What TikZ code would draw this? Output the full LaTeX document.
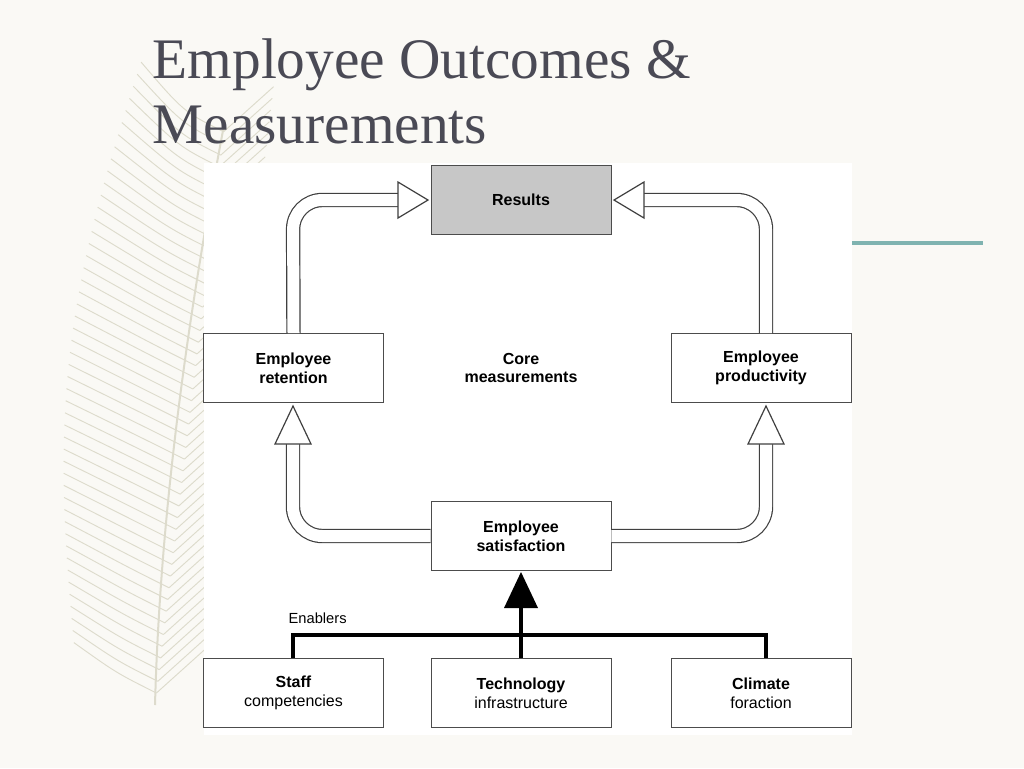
\documentclass[tikz,border=0pt]{standalone}
\usepackage{fontspec}
\setsansfont{Liberation Sans}
\newfontfamily\titlefont{Liberation Serif}
\usetikzlibrary{positioning,calc}
\definecolor{paper}{HTML}{FAF9F5}
\definecolor{titlegray}{HTML}{4A4A55}
\definecolor{teal}{HTML}{7FB3B0}
\definecolor{feather}{HTML}{DDDBCC}
\tikzset{
  box/.style={draw=black!70,fill=white,minimum width=135pt,minimum height=52pt,
              align=center,font=\sffamily\bfseries\fontsize{12}{14}\selectfont,inner sep=0pt},
  pipe/.style={draw=black!75,double=white,double distance=9pt,line width=.9pt,rounded corners=22pt},
  hollowhead/.style={draw=black!75,fill=white,line width=.9pt,line join=miter},
  enabler/.style={line width=3.5pt,black}
}
\begin{document}
\begin{tikzpicture}[x=0.75pt,y=-0.75pt]
\fill[paper] (0,0) rectangle (1024,768);
% feather
\begin{scope}[feather,line width=.7pt]
\draw[line width=1.5pt] (225,120) .. controls (185,330) and (160,520) .. (155,705);
\foreach \t in {0.02,0.04,...,0.98}{
  \pgfmathsetmacro\dx{-80-40*sin(180*\t)}
  \pgfmathsetmacro\dy{-70+20*\t}
  \coordinate (s) at ($(225,120)!\t!(155,705)$);
  \draw (s) .. controls ++(-40,-20) .. ++(\dx,\dy);
  \draw (s) -- ++(50,-45);
}
\end{scope}
% title
\node[anchor=north west,align=left,text=titlegray,font=\titlefont\fontsize{43}{49}\selectfont] (title) at (148,34)
  {Employee Outcomes \&\\Measurements};
\draw[teal,line width=2.5pt] (852,243) -- (983,243);
% panel
\fill[white] (204,163) rectangle (852,735);
% boxes
\node[box,fill=black!22] (results) at (521,200) {Results};
\node[box] (retention) at (293.5,368) {Employee\\retention};
\node[font=\sffamily\bfseries\fontsize{12}{14}\selectfont,align=center] (core) at (521,368) {Core\\measurements};
\node[box] (productivity) at (761,368) {Employee\\productivity};
\node[box] (satisfaction) at (521,536) {Employee\\satisfaction};
\node[box] (staff) at (293.5,693) {Staff\\{\mdseries competencies}};
\node[box] (tech) at (521,693) {Technology\\{\mdseries infrastructure}};
\node[box] (climate) at (761,693) {Climate\\{\mdseries foraction}};
% hollow arrows
\draw[pipe] (retention.north) -- (293,200) -- (402,200);
\draw[hollowhead] (398,182) -- (428,200) -- (398,218) -- cycle;
\draw[pipe] (productivity.north -| 766,0) -- (766,200) -- (640,200);
\draw[hollowhead] (644,182) -- (614,200) -- (644,218) -- cycle;
\draw[pipe] (satisfaction.west) -- (293,536) -- (293,440);
\draw[hollowhead] (275,444) -- (293,406) -- (311,444) -- cycle;
\draw[pipe] (satisfaction.east) -- (766,536) -- (766,440);
\draw[hollowhead] (748,444) -- (766,406) -- (784,444) -- cycle;
% enablers
\coordinate (bus) at (521,635);
\draw[enabler] (staff.north -| 293,0) -- (293,635) -- (766,635) -- (climate.north -| 766,0);
\draw[enabler] (tech.north) -- (bus);
\draw[enabler] (bus) -- (521,605);
\fill (504,608) -- (521,572) -- (538,608) -- cycle;
\node[font=\sffamily\fontsize{11}{13}\selectfont,anchor=south west] (enablers) at (284,628) {Enablers};
\end{tikzpicture}
\end{document}
